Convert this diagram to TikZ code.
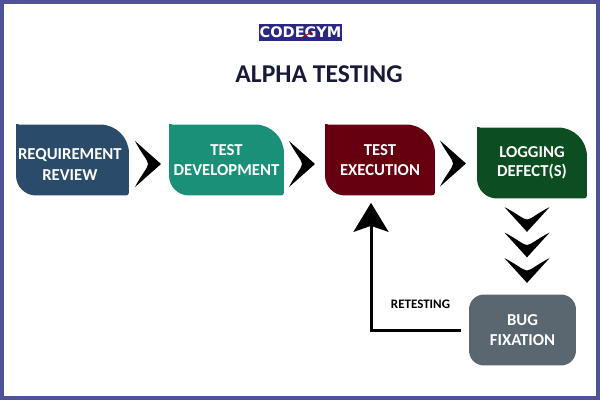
\documentclass[tikz,border=0pt]{standalone}
\usepackage{fontspec}
\setmainfont{Carlito}
\newfontfamily\logofont{DejaVu Sans}
\usetikzlibrary{arrows.meta,calc}
\definecolor{framecolor}{RGB}{79,81,153}
\definecolor{logocolor}{RGB}{42,40,130}
\definecolor{titlecolor}{RGB}{24,26,58}
\definecolor{reviewcolor}{RGB}{42,76,106}
\definecolor{developcolor}{RGB}{26,144,121}
\definecolor{executecolor}{RGB}{102,0,16}
\definecolor{loggingcolor}{RGB}{13,77,34}
\definecolor{bugcolor}{RGB}{90,103,112}

\begin{document}
\begin{tikzpicture}[
    x=0.02cm,
    y=-0.02cm,
    tabbox/.style={rectangle, inner sep=0pt, minimum height=1.42cm, align=center, text=white, font=\fontsize{9.5}{11}\selectfont\bfseries,
        path picture={\fill[#1] (path picture bounding box.north west) [rounded corners=0.06cm] -- (path picture bounding box.north west) [rounded corners=0.58cm] -- (path picture bounding box.north east) [rounded corners=0.06cm] -- (path picture bounding box.south east) [rounded corners=0.4cm] -- (path picture bounding box.south west) [rounded corners=0.06cm] -- cycle;}},
    bugbox/.style={rectangle, rounded corners=0.3cm, fill=bugcolor, inner sep=0pt, minimum width=2.14cm, minimum height=1.42cm, align=center, text=white, font=\fontsize{9.5}{11}\selectfont\bfseries},
    chevron/.pic={\fill[black] (-13,-23) -- (13,0) -- (-13,23) .. controls (-7,11) and (0,4) .. (0,0) .. controls (0,-4) and (-7,-11) .. cycle;},
    downchevron/.style={rotate=-90, xscale=0.95, yscale=0.98},
    arrow/.style={-{Stealth[length=0.58cm, width=0.7cm, inset=0.12cm]}, line width=0.06cm, black, shorten <=0.16cm, shorten >=0.14cm}
]

% Frame
\draw[framecolor, line width=0.08cm] (2,2) rectangle (598,398);
\useasboundingbox (0,0) rectangle (600,400);

% Logo
\node[fill=logocolor, minimum width=1.66cm, minimum height=0.34cm, inner sep=0pt, text=white, font=\logofont\fontsize{8.3}{8.3}\selectfont\bfseries] (logo) at (300.5,32.5) {CODEGYM};
\draw[red!70!black, line width=0.02cm] (301,38) -- (312,32);

% Title
\node[text=titlecolor, font=\fontsize{14.6}{14.6}\selectfont\bfseries] (title) at (319,74) {ALPHA TESTING};

% Process boxes
\node[tabbox=reviewcolor, minimum width=2.26cm] (review) at (72.5,160) {\rule{0pt}{11.5pt}REQUIREMENT\hspace*{3pt}\\[1pt]REVIEW\hspace*{3pt}};
\node[tabbox=developcolor, minimum width=2.3cm] (develop) at (226.5,160) {TEST\\DEVELOPMENT};
\node[tabbox=executecolor, minimum width=2.2cm] (execute) at (380,160) {TEST\\EXECUTION};
\node[tabbox=loggingcolor, minimum width=2.2cm] (logging) at (532,163) {LOGGING\\DEFECT(S)};
\node[bugbox] (bugfix) at (522.5,330) {BUG\\FIXATION};

% Chevrons between boxes
\pic at (148,164) {chevron};
\pic at (302,164) {chevron};
\pic at (453,163.5) {chevron};
\pic[downchevron] at (527,219.5) {chevron};
\pic[downchevron] at (527,245) {chevron};
\pic[downchevron] at (527,270.5) {chevron};

% Retesting loop
\draw[arrow] (bugfix.west) -| ([xshift=-0.18cm]execute.south);
\node[font=\fontsize{7.4}{7.4}\selectfont\bfseries] (retest) at (420.5,304) {RETESTING};

\end{tikzpicture}
\end{document}
